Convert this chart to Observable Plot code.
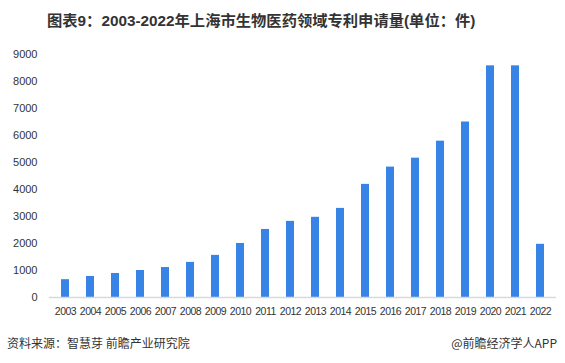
<!DOCTYPE html>
<html><head><meta charset="utf-8">
<script src="https://cdn.jsdelivr.net/npm/d3@7"></script>
<script src="https://cdn.jsdelivr.net/npm/@observablehq/plot@0.6"></script>
<style>
body{margin:0;width:565px;height:363px;position:relative;background:#fff;font-family:"Noto Sans CJK SC",sans-serif;overflow:hidden}
#title{position:absolute;top:8px;left:47px;white-space:nowrap;font-size:15.3px;font-weight:bold;color:#333;font-family:"Liberation Sans","Noto Sans CJK SC",sans-serif}
#chart{position:absolute;top:0;left:0}
#src{position:absolute;left:7px;top:334px;font-size:12px;color:#333}
#app{position:absolute;right:8px;top:334px;font-size:12px;color:#333}
</style></head><body>
<div id="chart"></div>
<div id="title">图表9：2003-2022年上海市生物医药领域专利申请量(单位：件)</div>
<div id="src">资料来源：智慧芽 前瞻产业研究院</div>
<div id="app">@前瞻经济学人APP</div>
<script>
const years = ["2003","2004","2005","2006","2007","2008","2009","2010","2011","2012","2013","2014","2015","2016","2017","2018","2019","2020","2021","2022"];
const counts = [660,780,890,1000,1110,1300,1560,2000,2520,2820,2970,3300,4190,4830,5160,5790,6500,8580,8580,1970];
const yTicks = [0,1000,2000,3000,4000,5000,6000,7000,8000,9000];
const data = years.map((y,i)=>({year:y,value:counts[i]}));
const chart = Plot.plot({
  width:565, height:363,
  marginTop:54, marginBottom:66, marginLeft:49, marginRight:9,
  style:{fontFamily:"Liberation Sans, sans-serif", color:"#333", background:"transparent"},
  x:{domain:years, paddingInner:0.68, paddingOuter:0.34, label:null, tickSize:0, tickPadding:10},
  y:{domain:[0,9000], ticks:yTicks, label:null, tickSize:0, tickPadding:12, tickFormat:d=>String(d)},
  marks:[
    Plot.barY(data,{x:"year",y:"value",fill:"#3784e6"}),
    Plot.ruleY([0],{stroke:"#d9d9d9",strokeWidth:1.5})
  ]
});
chart.querySelectorAll('g[aria-label="y-axis tick label"] text').forEach(t=>t.style.fontSize="11px");
chart.querySelectorAll('g[aria-label="x-axis tick label"]').forEach(g=>{g.style.fontSize="10.5px";g.style.letterSpacing="-0.5px";});
document.getElementById("chart").appendChild(chart);
</script>
</body></html>
